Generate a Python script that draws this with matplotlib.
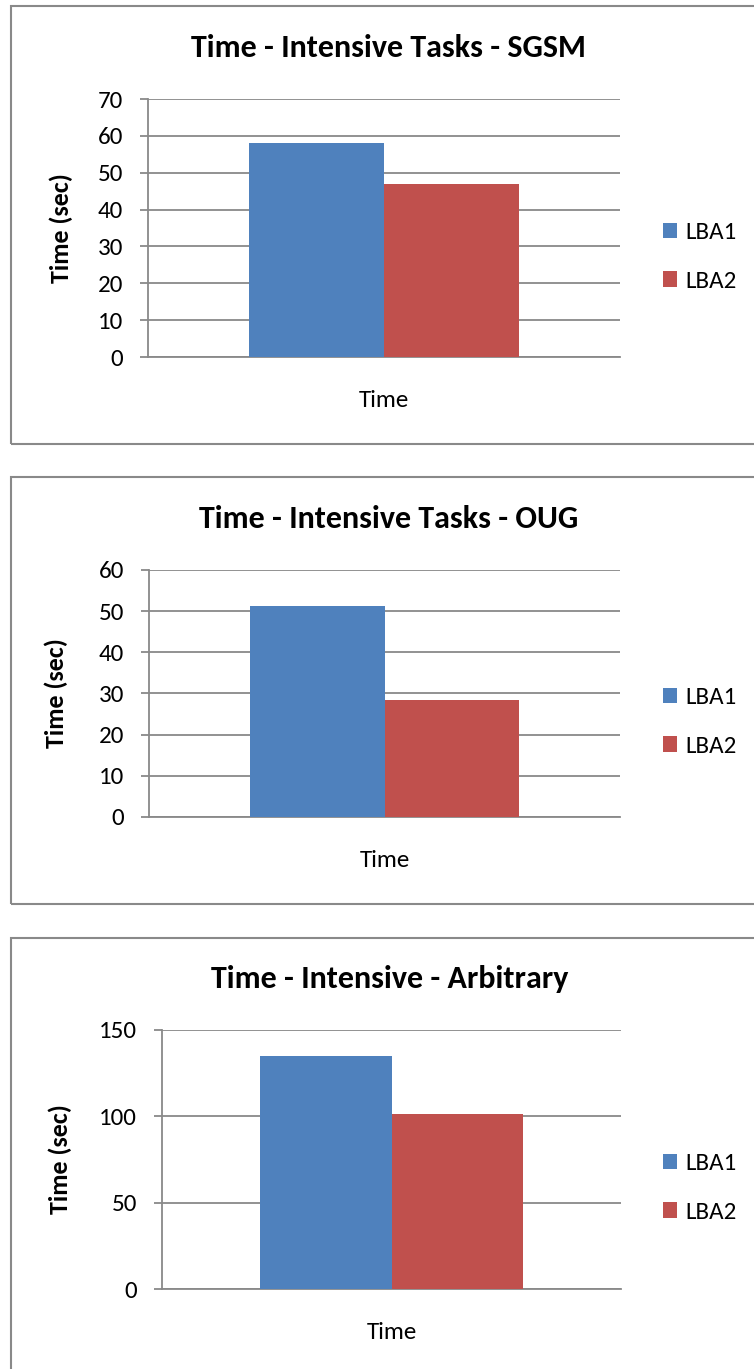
import matplotlib
matplotlib.use("Agg")
import matplotlib.pyplot as plt
from matplotlib import font_manager
from matplotlib.patches import Rectangle

# Chart content
titles = ["Time - Intensive Tasks - SGSM",
          "Time - Intensive Tasks - OUG",
          "Time - Intensive - Arbitrary"]
series = ["LBA1", "LBA2"]
category = ["Time"]
lba1 = [58, 51.3, 135]
lba2 = [47, 28.4, 101.3]
y_max = [70, 60, 150]
y_step = [10, 10, 50]
y_label = "Time (sec)"

colors = ["#4F81BD", "#C0504D"]
gray = "#898989"

W, H, DPI = 754, 1369, 100
installed = {f.name for f in font_manager.fontManager.ttflist}
family = next(f for f in ["Carlito", "Calibri", "Lato", "DejaVu Sans"] if f in installed)
plt.rcParams["font.family"] = [family, "DejaVu Sans"]


def pt(v):
    """pixels -> points"""
    return v * 72 / DPI


FS = pt(25)
FS_YLABEL = pt(26)
FS_TITLE = pt(32)

fig = plt.figure(figsize=(W / DPI, H / DPI), dpi=DPI)

# plot areas in pixels: left, top, right, bottom
areas = [(148, 99, 620, 357), (149, 570, 620, 817), (162, 1030, 621, 1289)]
frames = [(11, 6, 444), (11, 477, 904), (11, 938, 1420)]
title_base = [57, 528, 988]
title_x = [388, 389, 390]
legend_mid = [257, 722, 1188]
ylabel_x = [73, 68, 72]

for i in range(3):
    # outer chart frame
    fl, ft, fb = frames[i]
    fig.patches.append(Rectangle((fl / W, 1 - fb / H), (W + 20 - fl) / W, (fb - ft) / H,
                                 transform=fig.transFigure, fill=False,
                                 edgecolor=gray, linewidth=1.5, zorder=0))

    l, t, r, b = areas[i]
    ax = fig.add_axes([l / W, 1 - b / H, (r - l) / W, (b - t) / H])
    width = 0.286
    ax.bar(-width / 2, lba1[i], width, color=colors[0], label=series[0], zorder=3)
    ax.bar(width / 2, lba2[i], width, color=colors[1], label=series[1], zorder=3)
    ax.set_xlim(-0.5, 0.5)
    ax.set_ylim(0, y_max[i])
    ax.set_yticks(range(0, y_max[i] + 1, y_step[i]))
    ax.set_xticks([0], category)

    ax.yaxis.grid(True, color=gray, linewidth=1.3, zorder=1)
    ax.set_axisbelow(True)
    for s in ["top", "right"]:
        ax.spines[s].set_visible(False)
    for s in ["left", "bottom"]:
        ax.spines[s].set_color(gray)
        ax.spines[s].set_linewidth(1.3)
    ax.tick_params(axis="y", length=pt(8), width=1.3, color=gray,
                   pad=pt(17), labelsize=FS)
    ax.tick_params(axis="x", length=0, pad=pt(33), labelsize=FS)

    ax.set_ylabel(y_label, fontsize=FS_YLABEL, fontweight="bold")
    ax.yaxis.set_label_coords(ylabel_x[i] / W, 1 - (t + b) / 2 / H,
                              transform=fig.transFigure)

    fig.text(title_x[i] / W, 1 - title_base[i] / H, titles[i], ha="center",
             va="baseline", fontsize=FS_TITLE, fontweight="bold")

    ax.legend(loc="center left", bbox_to_anchor=(663 / W, 1 - legend_mid[i] / H),
              bbox_transform=fig.transFigure, frameon=False, fontsize=FS,
              handlelength=0.56, handleheight=0.56, handletextpad=0.32,
              labelspacing=1.1, borderpad=0, borderaxespad=0)

fig.savefig("out.png", dpi=DPI)
